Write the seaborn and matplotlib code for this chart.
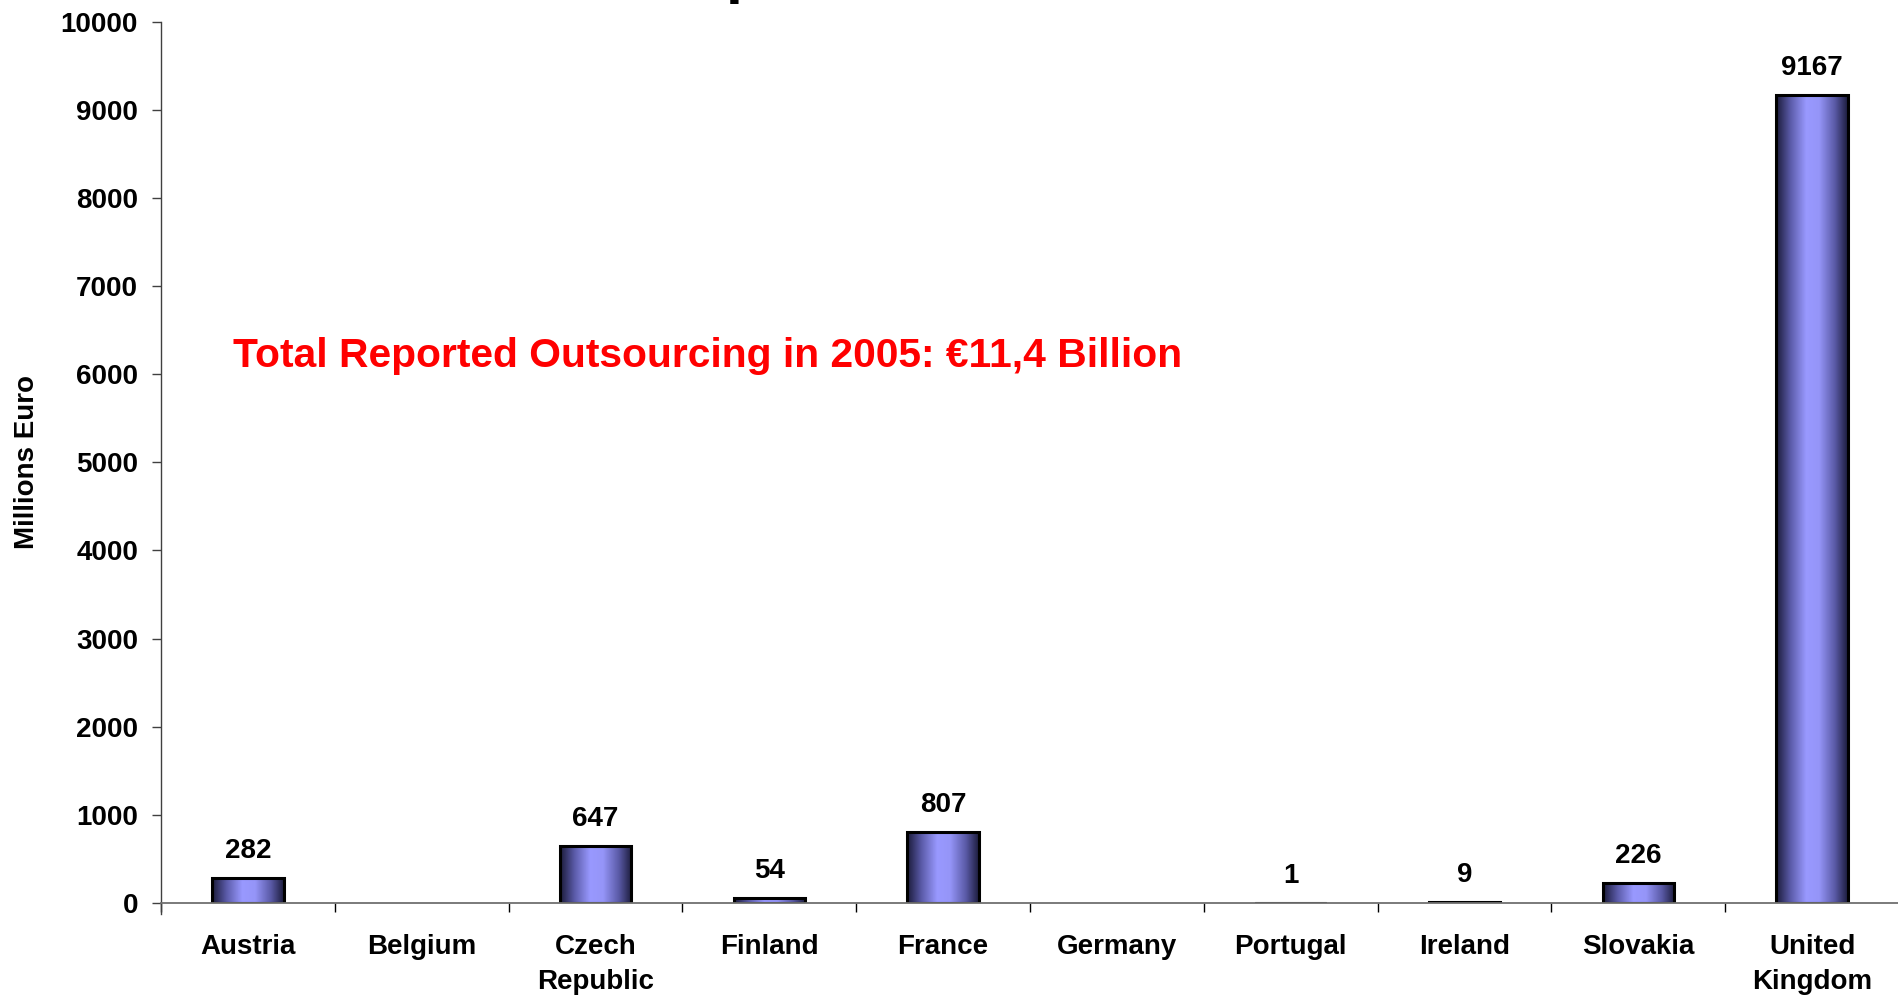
import matplotlib
matplotlib.use('Agg')
import matplotlib.pyplot as plt
from matplotlib.colors import LinearSegmentedColormap
import seaborn as sns
import pandas as pd
import numpy as np

# dati (milioni di euro)
countries = ['Austria', 'Belgium', 'Czech\nRepublic', 'Finland', 'France',
             'Germany', 'Portugal', 'Ireland', 'Slovakia', 'United\nKingdom']
values = [282, np.nan, 647, 54, 807, np.nan, 1, 9, 226, 9167]
yticks = [0, 1000, 2000, 3000, 4000, 5000, 6000, 7000, 8000, 9000, 10000]
note = 'Total Reported Outsourcing in 2005: €11,4 Billion'

sns.set_theme(style='white')
plt.rcParams['font.family'] = ['Liberation Sans', 'DejaVu Sans']
plt.rcParams['font.weight'] = 'bold'
plt.rcParams['text.color'] = 'black'
plt.rcParams['axes.labelcolor'] = 'black'
plt.rcParams['xtick.color'] = 'black'
plt.rcParams['ytick.color'] = 'black'

df = pd.DataFrame({'country': countries, 'value': values})

fig = plt.figure(figsize=(18.99, 9.99), dpi=100)
ax = fig.add_axes([161 / 1899, 1 - 903 / 999, 1 - 161 / 1899, (903 - 21.7) / 999])

sns.barplot(data=df.dropna(), x='country', y='value', order=countries,
            width=0.41, color='#9999ff', edgecolor='black', linewidth=2.2, ax=ax)

# sfumatura delle barre (scuro ai bordi, chiaro al centro)
cmap = LinearSegmentedColormap.from_list(
    'bar', [(0, '#1a1a38'), (0.2, '#5a5aa8'), (0.42, '#9999ff'), (0.6, '#9595f8'),
            (0.82, '#5a5aa6'), (1, '#1c1c3c')])
grad = np.linspace(0, 1, 256).reshape(1, -1)
for p in ax.patches:
    x0, w, h = p.get_x(), p.get_width(), p.get_height()
    ax.imshow(grad, extent=[x0, x0 + w, 0, h], aspect='auto', cmap=cmap,
              zorder=p.get_zorder() - 0.1, interpolation='bilinear')
    p.set_facecolor('none')

# etichette dei valori
for i, v in enumerate(values):
    if np.isnan(v):
        continue
    ax.annotate(f'{v:g}', (i, v), xytext=(0, 10), textcoords='offset points',
                ha='center', va='bottom', fontsize=20, fontweight='bold', color='black')

ax.set_xlim(-0.5, len(countries) - 0.5)
ax.set_ylim(0, 10000)
ax.set_yticks(yticks)
ax.set_yticklabels([str(t) for t in yticks], fontsize=20, fontweight='bold')
ax.set_xticks(range(len(countries)))
ax.set_xticklabels(countries, fontsize=20, fontweight='bold', linespacing=1.45)
ax.set_xticks(np.arange(-0.5, len(countries), 1), minor=True)
ax.tick_params(axis='x', which='major', length=0, pad=22)
ax.tick_params(axis='x', which='minor', length=6.5, width=1, direction='out',
               bottom=True, color='black')
ax.tick_params(axis='y', length=6.5, width=1, direction='out', left=True,
               pad=10, color='#404040')
ax.set_xlabel('')
ax.set_ylabel('Millions Euro', fontsize=20, fontweight='bold')
ax.yaxis.set_label_coords(-0.0696, 0.5)

sns.despine(ax=ax, top=True, right=True)
ax.spines['left'].set_color('#404040')
ax.spines['bottom'].set_color('#707070')
ax.spines['left'].set_linewidth(1)
ax.spines['bottom'].set_linewidth(1.3)
ax.spines['left'].set_bounds(-130, 10000)
ax.grid(False)

ax.text(-0.086, 6082, note, color='red', fontsize=29.3, fontweight='bold',
        ha='left', va='baseline')

# resto del titolo tagliato in alto
fig.text(726 / 1899, 1 + 9 / 999, 'p', fontsize=44, fontweight='bold',
         ha='left', va='baseline')

fig.savefig('out.png', dpi=100)
